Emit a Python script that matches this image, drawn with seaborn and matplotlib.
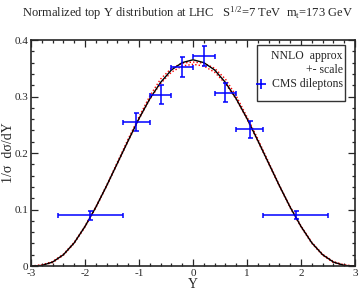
import matplotlib
matplotlib.use("Agg")
import matplotlib.pyplot as plt
from matplotlib.patches import Rectangle
from matplotlib.ticker import MultipleLocator
import seaborn as sns
import pandas as pd

# theory curves
y_grid = [-3.0, -2.8, -2.6, -2.4, -2.2, -2.0, -1.8, -1.6, -1.4, -1.2, -1.0, -0.8, -0.6, -0.4, -0.2,
          0.0, 0.2, 0.4, 0.6, 0.8, 1.0, 1.2, 1.4, 1.6, 1.8, 2.0, 2.2, 2.4, 2.6, 2.8, 3.0]
nnlo = [0.0, 0.001, 0.007, 0.020, 0.041, 0.070, 0.104, 0.142, 0.182, 0.222, 0.261, 0.296, 0.325, 0.347, 0.360,
        0.365, 0.360, 0.347, 0.325, 0.296, 0.261, 0.222, 0.182, 0.142, 0.104, 0.070, 0.041, 0.020, 0.007, 0.001, 0.0]
scale_up = [0.0, 0.002, 0.008, 0.021, 0.042, 0.071, 0.105, 0.143, 0.184, 0.225, 0.264, 0.301, 0.331, 0.350, 0.359,
            0.361, 0.359, 0.350, 0.331, 0.301, 0.264, 0.225, 0.184, 0.143, 0.105, 0.071, 0.042, 0.021, 0.008, 0.002, 0.0]
scale_dn = [0.0, 0.001, 0.006, 0.019, 0.040, 0.069, 0.103, 0.141, 0.181, 0.221, 0.260, 0.295, 0.323, 0.343, 0.354,
            0.357, 0.354, 0.343, 0.323, 0.295, 0.260, 0.221, 0.181, 0.141, 0.103, 0.069, 0.040, 0.019, 0.006, 0.001, 0.0]

# CMS dilepton data
cms_y = [-1.9, -1.05, -0.6, -0.2, 0.2, 0.6, 1.05, 1.9]
cms_val = [0.090, 0.255, 0.303, 0.352, 0.372, 0.307, 0.242, 0.090]
cms_yerr = [0.008, 0.016, 0.017, 0.018, 0.018, 0.017, 0.015, 0.007]
bin_lo = [-2.5, -1.3, -0.8, -0.4, 0.0, 0.4, 0.8, 1.3]
bin_hi = [-1.3, -0.8, -0.4, 0.0, 0.4, 0.8, 1.3, 2.5]

sns.set_style("ticks")
plt.rcParams['font.family'] = ['Liberation Serif', 'DejaVu Serif']
plt.rcParams['mathtext.fontset'] = 'custom'
plt.rcParams['mathtext.rm'] = 'Liberation Serif'
plt.rcParams['axes.unicode_minus'] = False

fig = plt.figure(figsize=(3.61, 2.91), dpi=100)
ax = fig.add_axes([0.0859, 0.0859, 0.8975, 0.7766])

df = pd.DataFrame({"Y": y_grid, "nnlo": nnlo, "up": scale_up, "dn": scale_dn})
sns.lineplot(data=df, x="Y", y="up", ax=ax, color="red", linestyle=(0, (1, 1.5)), linewidth=1.0)
sns.lineplot(data=df, x="Y", y="dn", ax=ax, color="red", linestyle=(0, (1, 1.5)), linewidth=1.0)
sns.lineplot(data=df, x="Y", y="nnlo", ax=ax, color="black", linewidth=1.0)

xerr = [[c - lo for c, lo in zip(cms_y, bin_lo)], [hi - c for c, hi in zip(cms_y, bin_hi)]]
ax.errorbar(cms_y, cms_val, xerr=xerr, yerr=cms_yerr, fmt='none', ecolor='#0000ff',
            elinewidth=1.1, capsize=1.8, capthick=1.1, zorder=5)

ax.set_xlim(-3, 3)
ax.set_ylim(0, 0.4)
ax.xaxis.set_major_locator(MultipleLocator(1))
ax.xaxis.set_minor_locator(MultipleLocator(0.2))
ax.yaxis.set_major_locator(MultipleLocator(0.1))
ax.yaxis.set_minor_locator(MultipleLocator(0.02))
ax.yaxis.set_major_formatter(plt.FuncFormatter(lambda v, p: "0" if abs(v) < 1e-9 else f"{v:.1f}"))
ax.tick_params(which='both', direction='in', top=True, right=True, labelsize=8, width=0.9, pad=2)
ax.tick_params(which='major', length=5)
ax.tick_params(which='minor', length=2.5)
for s in ax.spines.values():
    s.set_linewidth(1.2)

ax.set_xlabel("Y", fontsize=10, labelpad=0)
ax.set_ylabel("1/σ  dσ/dY", fontsize=10, va='center')
ax.yaxis.set_label_coords(-0.07, 0.5)
fig.text(0.52, 0.953, r"Normalized top Y distribution at LHC   $\mathregular{S^{1/2}}$=7 TeV  $\mathregular{m_t}$=173 GeV",
         ha='center', va='center', fontsize=9)

# legend box
ax.add_patch(Rectangle((0.6975, 0.731), 0.2715, 0.247, transform=ax.transAxes,
                       fill=True, facecolor='white', edgecolor='#333333', linewidth=1.0, zorder=6))
ax.text(0.962, 0.929, "NNLO  approx", transform=ax.transAxes, ha='right', va='center', fontsize=8.5, zorder=7)
ax.text(0.962, 0.867, "+- scale", transform=ax.transAxes, ha='right', va='center', fontsize=8.5, zorder=7)
ax.text(0.962, 0.805, "CMS dileptons", transform=ax.transAxes, ha='right', va='center', fontsize=8.5, zorder=7)
ax.plot([0.71], [0.805], marker='+', color='#0000ff', markersize=7, mew=1.2, transform=ax.transAxes, zorder=7)

fig.savefig("out.png", dpi=100)
